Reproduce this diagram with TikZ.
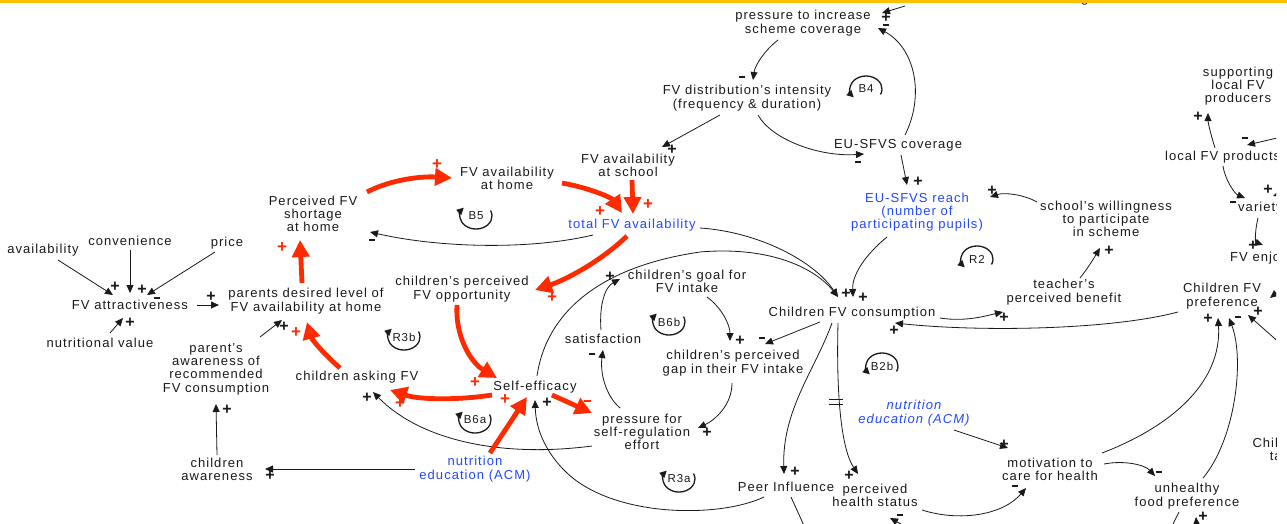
\documentclass[tikz,border=0pt]{standalone}
\usepackage{fontspec}
\setmainfont{Liberation Sans}[LetterSpace=8]
\newfontfamily\signfont{Liberation Sans}
\usetikzlibrary{arrows.meta,calc}
\definecolor{ink}{HTML}{1A1A1A}
\definecolor{cldred}{HTML}{FF2A00}
\definecolor{cldblue}{HTML}{2448FF}
\definecolor{topbar}{HTML}{FFC000}

% polarity signs
\newcounter{sgn}
\newcommand\sgnp[2]{\stepcounter{sgn}\node[pol] (sgn\arabic{sgn}) at (#1,#2) {+};}
\newcommand\sgnm[2]{\stepcounter{sgn}\node[pol] (sgn\arabic{sgn}) at (#1,#2) {\rule{6pt}{2pt}};}
\newcommand\rsgnp[2]{\stepcounter{sgn}\node[rpol] (sgn\arabic{sgn}) at (#1,#2) {+};}
\newcommand\rsgnm[2]{\stepcounter{sgn}\node[rpol] (sgn\arabic{sgn}) at (#1,#2) {\rule{7pt}{2pt}};}
% loop markers: arrowhead at upper left / lower left
\newcommand\loopup[4]{\coordinate (#1) at (#2,#3);
  \draw[looparc] ($(#1)+({16*cos(-25)},{13*sin(-25)})$) arc[start angle=-25,end angle=220,x radius=16,y radius=13];
  \node[looplbl] (#1t) at (#1) {#4};}
\newcommand\loopdn[4]{\coordinate (#1) at (#2,#3);
  \draw[looparc] ($(#1)+({16*cos(25)},{13*sin(25)})$) arc[start angle=25,end angle=-220,x radius=16,y radius=13];
  \node[looplbl] (#1t) at (#1) {#4};}

\begin{document}
\begin{tikzpicture}[x=1pt,y=-1pt,
  var/.style={align=center,inner sep=0pt,font=\fontsize{13}{13.3}\selectfont,text=ink},
  bvar/.style={var,text=cldblue},
  lk/.style={draw=ink,line width=0.8pt,-{Triangle[length=8pt,width=7pt]}},
  plainlk/.style={draw=ink,line width=0.8pt},
  rlk/.style={draw=cldred,line width=4.8pt,-{Triangle[length=17pt,width=17pt]}},
  pol/.style={inner sep=0pt,font=\signfont\bfseries\fontsize{16}{16}\selectfont,text=ink},
  rpol/.style={inner sep=0pt,font=\signfont\bfseries\fontsize{17}{17}\selectfont,text=cldred},
  looparc/.style={draw=ink,line width=1.3pt,-{Triangle[length=7pt,width=7pt]}},
  looplbl/.style={inner sep=0pt,font=\fontsize{11.5}{11.5}\selectfont,text=ink}]
\useasboundingbox (0,0) rectangle (1287,523);
\fill[white] (0,0) rectangle (1287,523);

\begin{scope}
\clip (0,0) rectangle (1276,523);

% ---------- variables ----------
\node[var] (sw) at (1006,-1) {desired EU-SFVS coverage};
\node[var] (press) at (803,23) {pressure to increase\\scheme coverage};
\node[var] (dist) at (747,98) {FV distribution's intensity\\(frequency \& duration)};
\node[var] (cov) at (898,145) {EU-SFVS coverage};
\node[bvar] (reach) at (917,212) {EU-SFVS reach\\(number of\\participating pupils)};
\node[var] (will) at (1106,219) {school's willingness\\to participate\\in scheme};
\node[var] (teach) at (1064,292) {teacher's\\perceived benefit};
\node[var] (cons) at (852,313) {Children FV consumption};
\node[var] (pref) at (1222,296) {Children FV\\preference};
\node[var] (supp) at (1238,86) {supporting\\local FV\\producers};
\node[var,anchor=west] (locp) at (1165,157) {local FV products};
\node[var,anchor=west] (vari) at (1238,208) {variety};
\node[var,anchor=west] (enj) at (1230,258) {FV enjoyment};
\node[var] (chil) at (1286,449) {Children's\\taste};
\node[var] (sch) at (628,165) {FV availability\\at school};
\node[var] (home) at (507,178) {FV availability\\at home};
\node[bvar] (tot) at (632,225) {total FV availability};
\node[var] (short) at (313,214) {Perceived FV\\shortage\\at home};
\node[var] (opp) at (462,289) {children's perceived\\FV opportunity};
\node[var] (desi) at (306,301) {parents desired level of\\FV availability at home};
\node[var] (attr) at (130,305) {FV attractiveness};
\node[var] (avail) at (43,250) {availability};
\node[var] (conv) at (130,241) {convenience};
\node[var] (price) at (227,243) {price};
\node[var] (nutv) at (100,343) {nutritional value};
\node[var] (paw) at (216,369) {parent's\\awareness of\\recommended\\FV consumption};
\node[var] (ask) at (357,377) {children asking FV};
\node[var] (self) at (535,387) {Self-efficacy};
\node[var] (caw) at (217,469) {children\\awareness};
\node[bvar] (ned) at (475,469) {nutrition\\education (ACM)};
\node[var] (psr) at (642,432) {pressure for\\self-regulation\\effort};
\node[var] (sat) at (603,339) {satisfaction};
\node[var] (goal) at (687,281) {children's goal for\\FV intake};
\node[var] (gap) at (733,363) {children's perceived\\gap in their FV intake};
\node[var] (peer) at (786,487) {Peer Influence};
\node[var] (hs) at (875,495) {perceived\\health status};
\node[bvar,font=\fontsize{13}{13.3}\selectfont\itshape] (ned2) at (914,413) {nutrition\\education (ACM)};
\node[var] (mot) at (1050,469) {motivation to\\care for health};
\node[var] (unh) at (1187,496) {unhealthy\\food preference};

% free ends of links leaving the drawing
\coordinate (offr1) at (1290,352);
\coordinate (offr2) at (1290,282);
\coordinate (offr3) at (1290,135);
\coordinate (offr4) at (1290,190);
\coordinate (offb1) at (1170,530);
\coordinate (offb2) at (1197,532);
\coordinate (offb3) at (806,530);
\coordinate (offb4) at (912,530);

% ---------- loop markers ----------
\loopdn{B4}{866}{89}{B4}
\loopup{B5}{476}{216}{B5}
\loopdn{R2}{977}{259}{R2}
\loopup{B6b}{669}{322}{B6b}
\loopup{R3b}{404}{337}{R3b}
\loopup{B6a}{475}{420}{B6a}
\loopup{R3a}{679}{479}{R3a}
\loopdn{B2b}{882}{366}{B2b}

% ---------- black links ----------
\draw[lk] ($(press.center)+(-25,17)$) .. controls (765,50) and (755,65) .. ($(dist.center)+(6,-18)$);
\draw[lk] ($(dist.center)+(-27,17)$) -- ($(sch.center)+(34,-18)$);
\draw[lk] ($(dist.center)+(11,17)$) .. controls (772,140) and (820,157) .. ($(cov.center)+(-34,9)$);
\draw[lk] ($(cov.center)+(7,-10)$) .. controls (925,95) and (915,48) .. ($(press.center)+(75,5)$);
\draw[lk] ($(sw.center)+(-101,7)$) -- ($(press.center)+(79,-10)$);
\draw[lk] ($(cov.center)+(3,10)$) -- ($(reach.center)+(-10,-27)$);
\draw[lk] ($(will.center)+(-69,-17)$) .. controls (1025,195) and (1005,192) .. ($(reach.center)+(73,-15)$);
\draw[lk] ($(teach.center)+(16,-14)$) .. controls (1088,268) and (1094,258) .. ($(will.center)+(-6,29)$);
\draw[lk] ($(cons.center)+(88,5)$) .. controls (965,322) and (985,316) .. ($(teach.center)+(-61,20)$);
\draw[lk] ($(pref.center)+(-44,16)$) .. controls (1110,330) and (980,332) .. ($(cons.center)+(43,10)$);
\draw[lk] ($(reach.center)+(-30,25)$) .. controls (865,255) and (852,275) .. ($(cons.center)+(1,-16)$);
\draw[lk] ($(tot.center)+(68,3)$) .. controls (760,232) and (815,262) .. ($(cons.center)+(-14,-16)$);
\draw[lk] ($(self.center)+(2,-11)$) .. controls (545,320) and (590,268) .. (700,252) .. controls (770,246) and (815,268) .. ($(cons.center)+(-14,-16)$);
\draw[lk] ($(cons.center)+(-32,9)$) -- ($(gap.center)+(32,-19)$);
\draw[lk] ($(cons.center)+(-20,10)$) .. controls (815,370) and (782,410) .. ($(peer.center)+(-2,-13)$);
\draw[lk] ($(cons.center)+(-14,10)$) .. controls (836,400) and (842,450) .. ($(hs.center)+(-17,-21)$);
\draw[plainlk] (829,399) -- (843,399) (829,404) -- (843,404);
\draw[lk] ($(peer.center)+(-22,10)$) .. controls (720,518) and (615,518) .. (567,473) .. controls (548,455) and (536,432) .. ($(self.center)+(0,13)$);
\draw[lk] ($(psr.center)+(-50,14)$) .. controls (500,458) and (420,440) .. ($(ask.center)+(16,15)$);
\draw[lk] ($(sat.center)+(-2,-9)$) .. controls (599,305) and (605,287) .. ($(goal.center)+(-67,-2)$);
\draw[lk] ($(goal.center)+(20,16)$) .. controls (722,308) and (730,325) .. ($(gap.center)+(-3,-22)$);
\draw[lk] ($(gap.center)+(-1,20)$) .. controls (732,405) and (715,420) .. ($(psr.center)+(56,-4)$);
\draw[lk] ($(psr.center)+(-22,-24)$) .. controls (605,395) and (600,372) .. ($(sat.center)+(0,11)$);
\draw[lk] ($(ned.center)+(-60,0)$) -- ($(caw.center)+(48,0)$);
\draw[lk] ($(caw.center)+(0,-14)$) -- ($(paw.center)+(0,35)$);
\draw[lk] ($(paw.center)+(44,-32)$) -- ($(desi.center)+(-24,19)$);
\draw[lk] ($(attr.center)+(67,0)$) -- ($(desi.center)+(-87,4)$);
\draw[lk] ($(avail.center)+(15,10)$) -- ($(attr.center)+(-17,-10)$);
\draw[lk] ($(conv.center)+(0,9)$) -- ($(attr.center)+(0,-12)$);
\draw[lk] ($(price.center)+(-12,9)$) -- ($(attr.center)+(17,-10)$);
\draw[lk] ($(nutv.center)+(10,-10)$) -- ($(attr.center)+(-7,13)$);
\draw[lk] ($(tot.center)+(-39,10)$) .. controls (530,250) and (440,248) .. ($(short.center)+(57,18)$);
\draw[lk] ($(mot.center)+(52,-16)$) .. controls (1175,425) and (1222,380) .. ($(pref.center)+(-4,22)$);
\draw[lk] ($(unh.center)+(16,-18)$) .. controls (1235,440) and (1245,360) .. ($(pref.center)+(7,22)$);
\draw[lk] ($(mot.center)+(54,-5)$) .. controls (1125,460) and (1145,465) .. ($(unh.center)+(-32,-20)$);
\draw[lk] ($(hs.center)+(47,15)$) .. controls (960,522) and (1003,515) .. ($(mot.center)+(-24,19)$);
\draw[lk] ($(ned2.center)+(40,17)$) -- ($(mot.center)+(-42,-21)$);
\draw[lk] (offr1) -- ($(pref.center)+(26,19)$);
\draw[lk] (offr2) -- ($(pref.center)+(48,2)$);
\draw[lk] ($(locp.west)+(50,-9)$) .. controls (1210,132) and (1208,122) .. ($(supp.center)+(-30,27)$);
\draw[lk] (offr3) -- ($(locp.west)+(82,-12)$);
\draw[lk] ($(locp.west)+(58,9)$) .. controls (1225,180) and (1235,194) .. ($(vari.west)+(7,-10)$);
\draw[lk] (offr4) -- ($(vari.west)+(35,-12)$);
\draw[lk] ($(vari.west)+(20,10)$) .. controls (1255,230) and (1255,242) .. ($(enj.west)+(33,-13)$);
\draw[plainlk] ($(unh.center)+(-8,16)$) -- (offb1);
\draw[lk] (offb2) -- ($(unh.center)+(9,21)$);
\draw[plainlk] ($(peer.center)+(5,10)$) -- (offb3);
\draw[lk] (offb4) -- ($(hs.center)+(15,23)$);

% ---------- red links ----------
\draw[rlk] ($(short.center)+(54,-22)$) .. controls (390,180) and (420,176) .. ($(home.center)+(-55,0)$);
\draw[rlk] ($(home.center)+(55,5)$) .. controls (590,188) and (612,198) .. ($(tot.center)+(-10,-12)$);
\draw[rlk] ($(sch.center)+(4,15)$) -- ($(tot.center)+(1,-11)$);
\draw[rlk] ($(tot.center)+(-5,11)$) .. controls (600,262) and (565,280) .. ($(opp.center)+(73,1)$);
\draw[rlk] ($(opp.center)+(-5,16)$) .. controls (455,335) and (470,362) .. ($(self.center)+(-38,-9)$);
\draw[rlk] ($(self.center)+(-43,8)$) .. controls (460,400) and (420,400) .. ($(ask.center)+(33,13)$);
\draw[rlk] ($(self.center)+(17,8)$) -- ($(psr.center)+(-50,-19)$);
\draw[rlk] ($(ned.center)+(15,-16)$) -- ($(self.center)+(-8,10)$);
\draw[rlk] ($(ask.center)+(-17,-9)$) .. controls (325,355) and (312,340) .. ($(desi.center)+(1,21)$);
\draw[rlk] ($(desi.center)+(-4,-18)$) -- ($(short.center)+(-13,26)$);

% ---------- polarity signs ----------
\sgnp{886}{18} \sgnp{672}{150} \sgnp{918}{182} \sgnp{992}{191}
\sgnp{1109}{251} \sgnp{1004}{318} \sgnp{894}{331} \sgnp{863}{298}
\sgnp{846}{294} \sgnp{795}{472} \sgnp{849}{476} \sgnp{547}{403}
\sgnp{367}{398} \sgnp{610}{277} \sgnp{740}{341} \sgnp{707}{433}
\sgnp{270}{476} \sgnp{227}{410} \sgnp{284}{327} \sgnp{211}{297}
\sgnp{115}{287} \sgnp{142}{290} \sgnp{130}{323} \sgnp{1208}{319}
\sgnp{1004}{445} \sgnp{1258}{312} \sgnp{1198}{117} \sgnp{1268}{190}
\sgnp{1253}{246} \sgnp{1203}{517}
\sgnm{742}{77} \sgnm{858}{162} \sgnm{886}{25} \sgnm{762}{338}
\sgnm{592}{354} \sgnm{157}{298} \sgnm{372}{240} \sgnm{1238}{317}
\sgnm{1159}{472} \sgnm{1015}{486} \sgnm{1245}{138} \sgnm{1233}{202}
\sgnm{900}{515}
\rsgnp{437}{165} \rsgnp{600}{212} \rsgnp{648}{205} \rsgnp{552}{298}
\rsgnp{475}{383} \rsgnp{400}{404} \rsgnp{505}{400} \rsgnp{296}{333}
\rsgnp{282}{248}
\rsgnm{587}{401}
\end{scope}

% frame edge at the top
\fill[topbar] (0,0) rectangle (1287,2.5);
\end{tikzpicture}
\end{document}
